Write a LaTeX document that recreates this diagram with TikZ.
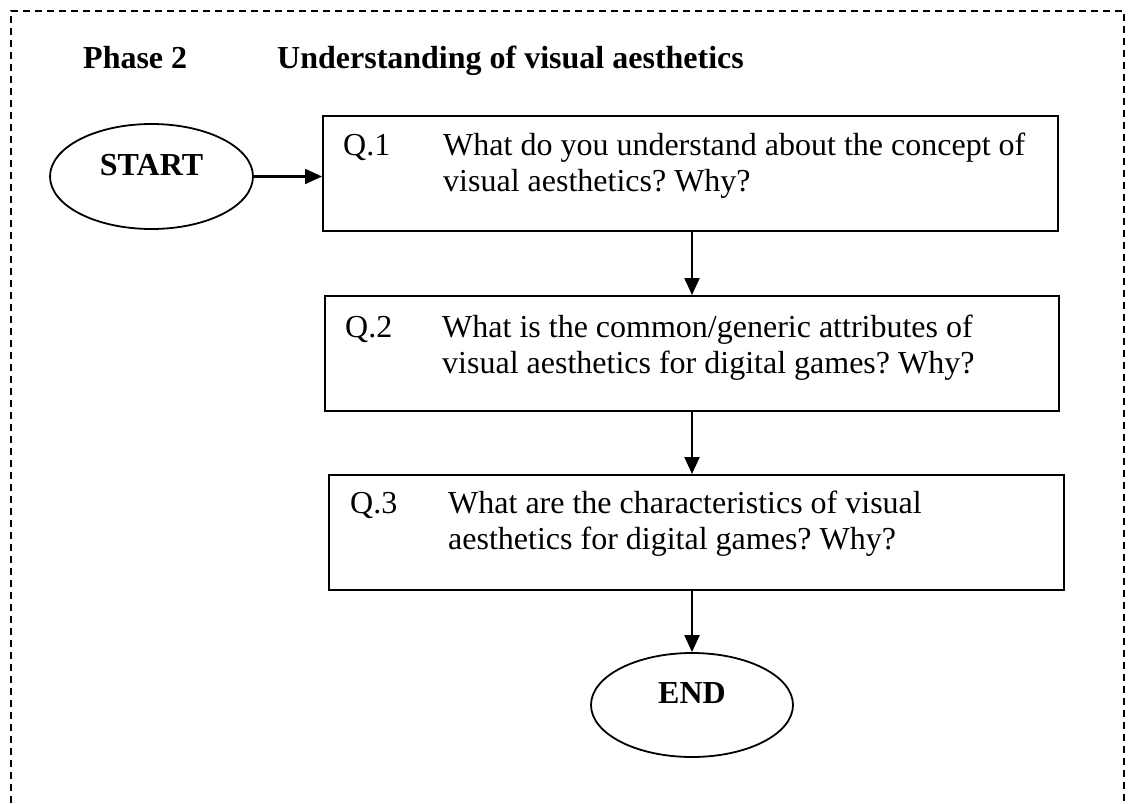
\documentclass[tikz,border=0pt]{standalone}
\usepackage{fontspec}
\setmainfont{Liberation Serif}
\usetikzlibrary{arrows.meta,shapes.geometric}
\frenchspacing
\begin{document}
\begin{tikzpicture}[x=1pt,y=-1pt,
  font=\fontsize{32}{36}\selectfont,
  qbox/.style={draw,line width=2.2pt,inner sep=0pt,anchor=north west},
  oval/.style={draw,ellipse,line width=1.8pt,inner sep=0pt,font=\fontsize{32}{36}\selectfont\bfseries,text height=22pt,text depth=25pt},
  txt/.style={inner sep=0pt,anchor=base west},
  arr/.style={line width=2.2pt,-{Triangle[length=17pt,width=15pt]}},
  frame/.style={line width=2pt,dash pattern=on 7pt off 5pt}
]
\useasboundingbox (0,0) rectangle (1129,803);
% frame
\coordinate (f1) at (11,803);
\coordinate (f2) at (11,11);
\coordinate (f3) at (1124,11);
\coordinate (f4) at (1124,803);
\draw[frame] (f1) -- (f2) -- (f3) -- (f4);
% title
\node[txt,font=\fontsize{32}{36}\selectfont\bfseries] (ph) at (83,68) {Phase 2};
\node[txt,font=\fontsize{32}{36}\selectfont\bfseries] (ti) at (277,68) {Understanding of visual aesthetics};
% start / end
\node[oval,minimum width=203pt,minimum height=105pt] (s) at (151.5,176.5) {START};
\node[oval,minimum width=202pt,minimum height=104pt] (e) at (692,705) {END};
% boxes
\node[qbox,minimum width=735pt,minimum height=115pt] (q1) at (322,115) {};
\node[qbox,minimum width=734pt,minimum height=115pt] (q2) at (324,295) {};
\node[qbox,minimum width=735pt,minimum height=115pt] (q3) at (328,474) {};
% texts
\node[txt] (n1) at (343,155) {Q.1};
\node[txt] (t1) at (443,155) {\begin{tabular}[t]{@{}l@{}}What do you understand about the concept of\\ visual aesthetics? Why?\end{tabular}};
\node[txt] (n2) at (345,337) {Q.2};
\node[txt] (t2) at (442,337) {\begin{tabular}[t]{@{}l@{}}What is the common/generic attributes of\\ visual aesthetics for digital games? Why?\end{tabular}};
\node[txt] (n3) at (350,513) {Q.3};
\node[txt] (t3) at (448,513) {\begin{tabular}[t]{@{}l@{}}What are the characteristics of visual\\ aesthetics for digital games? Why?\end{tabular}};
% arrows
\draw[arr] (s.east) -- (s.east -| q1.west);
\draw[arr] (e.north |- q1.south) -- (e.north |- q2.north);
\draw[arr] (e.north |- q2.south) -- (e.north |- q3.north);
\draw[arr] (e.north |- q3.south) -- (e.north);
\end{tikzpicture}
\end{document}
